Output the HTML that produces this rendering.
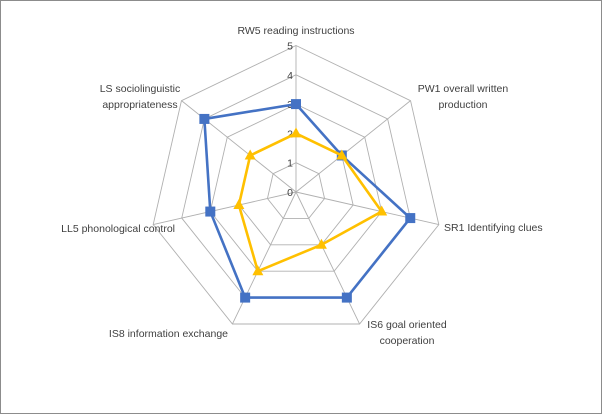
<!DOCTYPE html>
<html><head><meta charset="utf-8"><style>
html,body{margin:0;padding:0;background:#fff}
#b{position:absolute;left:0;top:0;width:600px;height:412px;border:1px solid #8c8c8c}
svg{position:absolute;left:0;top:0}
text{font-family:"Liberation Sans",sans-serif;font-size:10.5px;fill:#404040}
</style></head><body><div id="b"></div>
<svg id="s" width="602" height="414" xmlns="http://www.w3.org/2000/svg"></svg>
<script>
var cx=296,cy=192,R=146.5,s=document.getElementById('s'),h='';
function pt(k,v){var a=k*2*Math.PI/7;return [cx+Math.sin(a)*R*v/5,cy-Math.cos(a)*R*v/5];}
for(var v=1;v<=5;v++){var p=[];for(var k=0;k<7;k++)p.push(pt(k,v).join(','));h+='<polygon points="'+p.join(' ')+'" fill="none" stroke="#b0b0b0" stroke-width="0.9"/>';}
for(var k=0;k<7;k++){var q=pt(k,5);h+='<line x1="'+cx+'" y1="'+cy+'" x2="'+q[0]+'" y2="'+q[1]+'" stroke="#b0b0b0" stroke-width="0.9"/>';}
for(var v=0;v<=5;v++){h+='<text x="'+(cx-3)+'" y="'+(cy-v*R/5+4)+'" text-anchor="end">'+v+'</text>';}
var blue=[3,2,4,4,4,3,4],yel=[2,2,3,2,3,2,2];
function series(d,c,m){var p=[],mk='';for(var k=0;k<7;k++){var q=pt(k,d[k]);p.push(q.join(','));
if(m)mk+='<rect x="'+(q[0]-5)+'" y="'+(q[1]-5)+'" width="10" height="10" fill="'+c+'"/>';
else mk+='<polygon points="'+q[0]+','+(q[1]-6)+' '+(q[0]-5.5)+','+(q[1]+4)+' '+(q[0]+5.5)+','+(q[1]+4)+'" fill="'+c+'"/>';}
return '<polygon points="'+p.join(' ')+'" fill="none" stroke="'+c+'" stroke-width="2.6" stroke-linejoin="round"/>'+mk;}
h+=series(blue,'#4472c4',1)+series(yel,'#ffc000',0);
var L=[[296,34,'middle',['RW5 reading instructions']],[463,92,'middle',['PW1 overall written','production']],
[444,231,'start',['SR1 Identifying clues']],[407,328,'middle',['IS6 goal oriented','cooperation']],
[228,337,'end',['IS8 information exchange']],[175,232,'end',['LL5 phonological control']],
[140,92,'middle',['LS sociolinguistic','appropriateness']]];
L.forEach(function(l){l[3].forEach(function(t,i){h+='<text x="'+l[0]+'" y="'+(l[1]+i*16)+'" text-anchor="'+l[2]+'">'+t+'</text>';});});
s.innerHTML=h;
</script></body></html>
